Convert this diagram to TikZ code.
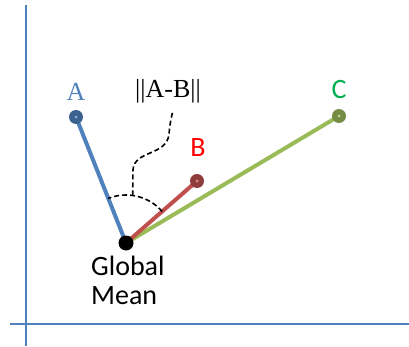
\documentclass[tikz,border=0pt]{standalone}
\usepackage{fontspec}
\setmainfont{Liberation Serif}
\setsansfont{Carlito}
\usepackage{tikz}
\usetikzlibrary{positioning}
\definecolor{axisblue}{RGB}{79,129,189}
\definecolor{lineA}{RGB}{79,129,189}
\definecolor{lineB}{RGB}{192,80,77}
\definecolor{lineC}{RGB}{155,187,89}
\definecolor{labelC}{RGB}{0,176,80}

\begin{document}
\begin{tikzpicture}[x=1pt,y=1pt,
  axis/.style={draw=axisblue,line width=2pt},
  vec/.style={line width=4pt},
  tip/.style={circle,inner sep=0pt,minimum size=14pt},
  guide/.style={line width=1.6pt,dash pattern=on 5pt off 3pt},
  serlabel/.style={font=\fontsize{26}{28}\selectfont\rmfamily},
  sanlabel/.style={font=\fontsize{28}{29}\selectfont\sffamily}]
  \useasboundingbox (0,0) rectangle (409,346);
  % axes
  \coordinate (ytop) at (26,341);
  \coordinate (ybot) at (26,0);
  \coordinate (xleft) at (10,22);
  \coordinate (xright) at (409,22);
  \draw[axis] (ybot) -- (ytop);
  \draw[axis] (xleft) -- (xright);
  % vectors
  \coordinate (o) at (126,103);
  \coordinate (a) at (76,229);
  \coordinate (b) at (197,165);
  \coordinate (c) at (339,230);
  \draw[vec,draw=lineA] (o) -- (a);
  \draw[vec,draw=lineC] (o) -- (c);
  \draw[vec,draw=lineB] (o) -- (b);
  \node[tip,fill=lineA!75!black] (dotA) at (a) {};
  \node[tip,fill=lineB!75!black] (dotB) at (b) {};
  \node[tip,fill=lineC!75!black] (dotC) at (c) {};
  \node[tip,fill=black,minimum size=15pt] (dotO) at (o) {};
  \fill[lineA!60] (dotA) circle (1.5pt);
  \fill[lineB!60] (dotB) circle (1.5pt);
  \fill[lineC!60] (dotC) circle (1.5pt);
  % angle and its label
  \draw[guide] ([shift={(41:48)}]o) arc (41:112:48);
  \coordinate (arctop) at ([shift={(82:48)}]o);
  \coordinate (normend) at (173,236);
  \draw[guide] (arctop) -- (133,176)
    .. controls (134,196) and (167,190) .. (169,212)
    .. controls (170,222) .. (normend);
  % labels
  \node[serlabel,text=lineA] (labA) at (76,254) {A};
  \node[serlabel] (labNorm) at (168,255) {||A-B||};
  \node[sanlabel,text=red] (labB) at (198,198) {B};
  \node[sanlabel,text=labelC] (labC) at (339,256) {C};
  \node[sanlabel,align=left,anchor=north west,inner sep=0pt] (labO) at (91,90) {Global\\Mean};
\end{tikzpicture}
\end{document}
